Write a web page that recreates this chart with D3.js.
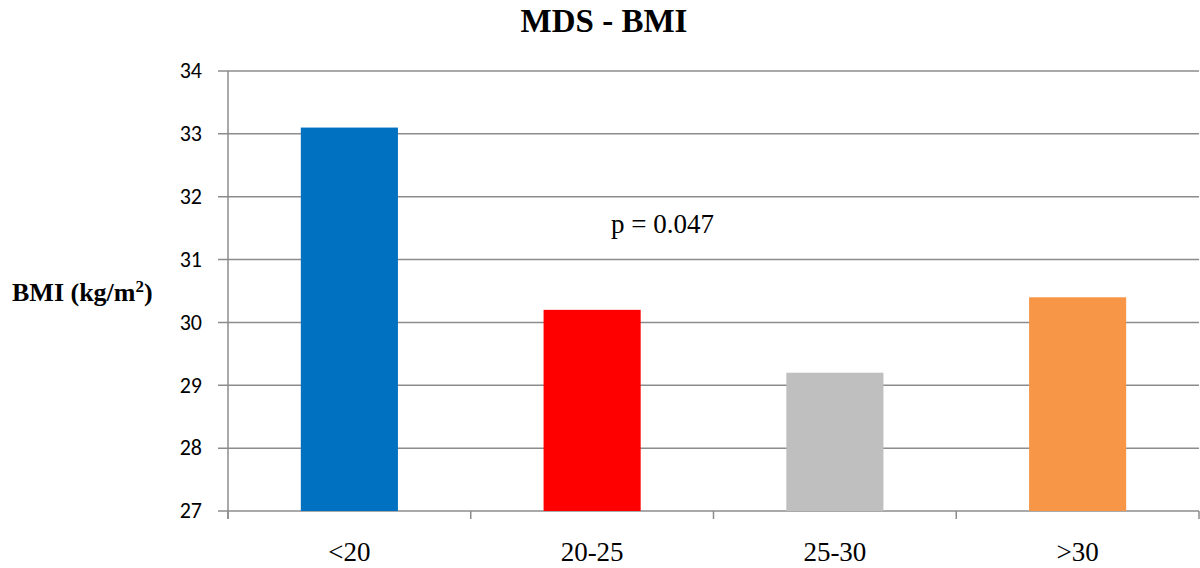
<!DOCTYPE html>
<html>
<head>
<meta charset="utf-8">
<script src="https://cdn.jsdelivr.net/npm/d3@7"></script>
<style>
  body { margin: 0; background: #fff; }
  svg { display: block; }
</style>
</head>
<body>
<svg id="chart" width="1200" height="568"></svg>
<script>
var categories = ["<20", "20-25", "25-30", ">30"];
var values = [33.1, 30.2, 29.2, 30.4];
var barColors = ["#0070C0", "#FF0000", "#BFBFBF", "#F79646"];
var yTicks = [27, 28, 29, 30, 31, 32, 33, 34];

var serif = "'Liberation Serif'";
var sans = "'Carlito'";

var svg = d3.select("#chart");

var margin = { left: 228, right: 1, top: 71, bottom: 57 };
var width = 1200, height = 568;

var x = d3.scaleBand()
    .domain(categories)
    .range([margin.left, width - margin.right])
    .paddingInner(0.6)
    .paddingOuter(0.3);

// band boundaries for the bottom tick marks
var step = (width - margin.right - margin.left) / categories.length;

var y = d3.scaleLinear()
    .domain([27, 34])
    .range([height - margin.bottom, margin.top]);

// gridlines
svg.append("g")
    .selectAll("line")
    .data(yTicks)
    .enter()
    .append("line")
    .attr("x1", margin.left - 10)
    .attr("x2", width - margin.right)
    .attr("y1", function(d) { return y(d); })
    .attr("y2", function(d) { return y(d); })
    .attr("stroke", "#8c8c8c")
    .attr("stroke-width", 1.5);

// y axis line
svg.append("line")
    .attr("x1", margin.left).attr("x2", margin.left)
    .attr("y1", y(34)).attr("y2", y(27) + 8)
    .attr("stroke", "#8c8c8c")
    .attr("stroke-width", 1.5);

// bars
svg.append("g")
    .selectAll("rect")
    .data(values)
    .enter()
    .append("rect")
    .attr("x", function(d, i) { return x(categories[i]); })
    .attr("width", x.bandwidth())
    .attr("y", function(d) { return y(d); })
    .attr("height", function(d) { return y(27) - y(d); })
    .attr("fill", function(d, i) { return barColors[i]; });

// bottom tick marks at category boundaries
svg.append("g")
    .selectAll("line")
    .data(d3.range(categories.length + 1))
    .enter()
    .append("line")
    .attr("x1", function(i) { return margin.left + i * step; })
    .attr("x2", function(i) { return margin.left + i * step; })
    .attr("y1", y(27))
    .attr("y2", y(27) + 8)
    .attr("stroke", "#8c8c8c")
    .attr("stroke-width", 1.5);

// y tick labels
svg.append("g")
    .selectAll("text")
    .data(yTicks)
    .enter()
    .append("text")
    .attr("x", 202)
    .attr("y", function(d) { return y(d); })
    .attr("dy", "0.33em")
    .attr("text-anchor", "end")
    .style("font-family", sans)
    .style("font-size", "22px")
    .attr("fill", "#000")
    .text(function(d) { return d; });

// x labels
svg.append("g")
    .selectAll("text")
    .data(categories)
    .enter()
    .append("text")
    .attr("x", function(d) { return x(d) + x.bandwidth() / 2; })
    .attr("y", 561)
    .attr("text-anchor", "middle")
    .style("font-family", serif)
    .style("font-size", "27px")
    .attr("fill", "#000")
    .text(function(d) { return d; });

// title
svg.append("text")
    .attr("x", 604)
    .attr("y", 32)
    .attr("text-anchor", "middle")
    .style("font-family", serif)
    .style("font-size", "33px")
    .style("font-weight", "bold")
    .text("MDS - BMI");

// y axis title
var yt = svg.append("text")
    .attr("x", 12)
    .attr("y", 301)
    .style("font-family", serif)
    .style("font-size", "26px")
    .style("font-weight", "bold");
yt.append("tspan").text("BMI (kg/m");
yt.append("tspan").style("font-size", "17px").attr("dy", "-9").text("2");
yt.append("tspan").attr("dy", "9").text(")");

// p value annotation
svg.append("text")
    .attr("x", 611)
    .attr("y", 233)
    .style("font-family", serif)
    .style("font-size", "27px")
    .text("p = 0.047");
</script>
</body>
</html>
